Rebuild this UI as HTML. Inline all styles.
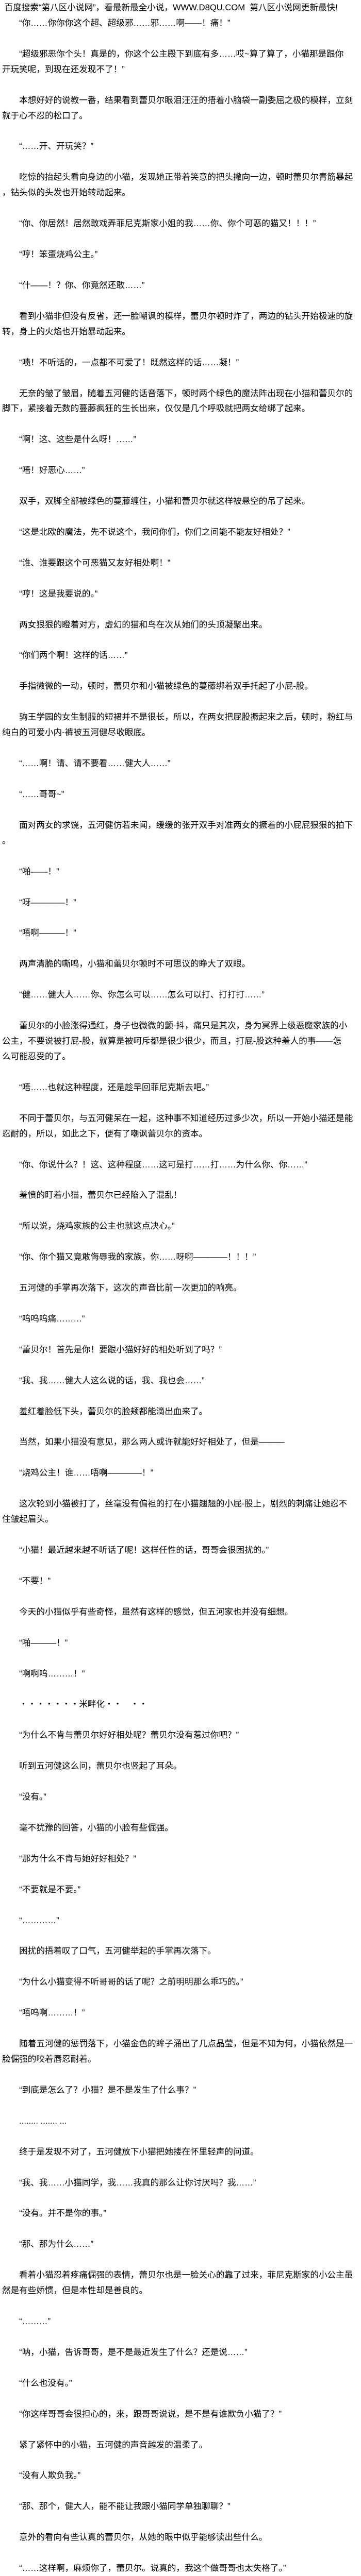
<!DOCTYPE html>
<html lang="zh">
<head>
<meta charset="utf-8">
<style>
html,body{margin:0;padding:0;background:#fff;height:5300px;overflow:hidden;}
body{width:700px;position:relative;}
.t{
  font-family:"Liberation Sans","Noto Sans CJK SC",sans-serif;
  font-size:16.6px;
  color:#000;
  margin:0;
  position:relative;
  width:700px;height:5300px;overflow:hidden;
}
.t div{height:29.94px;line-height:29.94px;white-space:pre;overflow:hidden;padding-left:4px;width:696px;}
</style>
</head>
<body>
<div class="t" id="t">
<div> 百度搜索“第八区小说网”，看最新最全小说，WWW.D8QU.COM  第八区小说网更新最快!</div>
<div>　　“你……你你你这个超、超级邪……邪……啊——！痛！”</div>
<div></div>
<div>　　“超级邪恶你个头！真是的，你这个公主殿下到底有多……哎~算了算了，小猫那是跟你</div>
<div>开玩笑呢，到现在还发现不了！”</div>
<div></div>
<div>　　本想好好的说教一番，结果看到蕾贝尔眼泪汪汪的捂着小脑袋一副委屈之极的模样，立刻</div>
<div>就于心不忍的松口了。</div>
<div></div>
<div>　　“……开、开玩笑？”</div>
<div></div>
<div>　　吃惊的抬起头看向身边的小猫，发现她正带着笑意的把头撇向一边，顿时蕾贝尔青筋暴起</div>
<div>，钻头似的头发也开始转动起来。</div>
<div></div>
<div>　　“你、你居然！居然敢戏弄菲尼克斯家小姐的我……你、你个可恶的猫又！！！”</div>
<div></div>
<div>　　“哼！笨蛋烧鸡公主。”</div>
<div></div>
<div>　　“什——！？你、你竟然还敢……”</div>
<div></div>
<div>　　看到小猫非但没有反省，还一脸嘲讽的模样，蕾贝尔顿时炸了，两边的钻头开始极速的旋</div>
<div>转，身上的火焰也开始暴动起来。</div>
<div></div>
<div>　　“啧！不听话的，一点都不可爱了！既然这样的话……凝！”</div>
<div></div>
<div>　　无奈的皱了皱眉，随着五河健的话音落下，顿时两个绿色的魔法阵出现在小猫和蕾贝尔的</div>
<div>脚下，紧接着无数的蔓藤疯狂的生长出来，仅仅是几个呼吸就把两女给绑了起来。</div>
<div></div>
<div>　　“啊！这、这些是什么呀！……”</div>
<div></div>
<div>　　“唔！好恶心……”</div>
<div></div>
<div>　　双手，双脚全部被绿色的蔓藤缠住，小猫和蕾贝尔就这样被悬空的吊了起来。</div>
<div></div>
<div>　　“这是北欧的魔法，先不说这个，我问你们，你们之间能不能友好相处？”</div>
<div></div>
<div>　　“谁、谁要跟这个可恶猫又友好相处啊！”</div>
<div></div>
<div>　　“哼！这是我要说的。”</div>
<div></div>
<div>　　两女狠狠的瞪着对方，虚幻的猫和鸟在次从她们的头顶凝聚出来。</div>
<div></div>
<div>　　“你们两个啊！这样的话……”</div>
<div></div>
<div>　　手指微微的一动，顿时，蕾贝尔和小猫被绿色的蔓藤绑着双手托起了小屁-股。</div>
<div></div>
<div>　　驹王学园的女生制服的短裙并不是很长，所以，在两女把屁股撅起来之后，顿时，粉红与</div>
<div>纯白的可爱小内-裤被五河健尽收眼底。</div>
<div></div>
<div>　　“……啊！请、请不要看……健大人……”</div>
<div></div>
<div>　　“……哥哥~”</div>
<div></div>
<div>　　面对两女的求饶，五河健仿若未闻，缓缓的张开双手对准两女的撅着的小屁屁狠狠的拍下</div>
<div>。</div>
<div></div>
<div>　　“啪——！”</div>
<div></div>
<div>　　“呀————！”</div>
<div></div>
<div>　　“唔啊———！”</div>
<div></div>
<div>　　两声清脆的嘶鸣，小猫和蕾贝尔顿时不可思议的睁大了双眼。</div>
<div></div>
<div>　　“健……健大人……你、你怎么可以……怎么可以打、打打打……”</div>
<div></div>
<div>　　蕾贝尔的小脸涨得通红，身子也微微的颤-抖，痛只是其次，身为冥界上级恶魔家族的小</div>
<div>公主，不要说被打屁-股，就算是被呵斥都是很少很少，而且，打屁-股这种羞人的事——怎</div>
<div>么可能忍受的了。</div>
<div></div>
<div>　　“唔……也就这种程度，还是趁早回菲尼克斯去吧。”</div>
<div></div>
<div>　　不同于蕾贝尔，与五河健呆在一起，这种事不知道经历过多少次，所以一开始小猫还是能</div>
<div>忍耐的，所以，如此之下，便有了嘲讽蕾贝尔的资本。</div>
<div></div>
<div>　　“你、你说什么？！这、这种程度……这可是打……打……为什么你、你……”</div>
<div></div>
<div>　　羞愤的盯着小猫，蕾贝尔已经陷入了混乱！</div>
<div></div>
<div>　　“所以说，烧鸡家族的公主也就这点决心。”</div>
<div></div>
<div>　　“你、你个猫又竟敢侮辱我的家族，你……呀啊————！！！”</div>
<div></div>
<div>　　五河健的手掌再次落下，这次的声音比前一次更加的响亮。</div>
<div></div>
<div>　　“呜呜呜痛………”</div>
<div></div>
<div>　　“蕾贝尔！首先是你！要跟小猫好好的相处听到了吗？”</div>
<div></div>
<div>　　“我、我……健大人这么说的话，我、我也会……”</div>
<div></div>
<div>　　羞红着脸低下头，蕾贝尔的脸颊都能滴出血来了。</div>
<div></div>
<div>　　当然，如果小猫没有意见，那么两人或许就能好好相处了，但是———</div>
<div></div>
<div>　　“烧鸡公主！谁……唔啊————！”</div>
<div></div>
<div>　　这次轮到小猫被打了，丝毫没有偏袒的打在小猫翘翘的小屁-股上，剧烈的刺痛让她忍不</div>
<div>住皱起眉头。</div>
<div></div>
<div>　　“小猫！最近越来越不听话了呢！这样任性的话，哥哥会很困扰的。”</div>
<div></div>
<div>　　“不要！”</div>
<div></div>
<div>　　今天的小猫似乎有些奇怪，虽然有这样的感觉，但五河家也并没有细想。</div>
<div></div>
<div>　　“啪———！”</div>
<div></div>
<div>　　“啊啊呜………！”</div>
<div></div>
<div>　　・・・・・・・米畔化・・　・・</div>
<div></div>
<div>　　“为什么不肯与蕾贝尔好好相处呢？蕾贝尔没有惹过你吧？”</div>
<div></div>
<div>　　听到五河健这么问，蕾贝尔也竖起了耳朵。</div>
<div></div>
<div>　　“没有。”</div>
<div></div>
<div>　　毫不犹豫的回答，小猫的小脸有些倔强。</div>
<div></div>
<div>　　“那为什么不肯与她好好相处？”</div>
<div></div>
<div>　　“不要就是不要。”</div>
<div></div>
<div>　　“…………”</div>
<div></div>
<div>　　困扰的捂着叹了口气，五河健举起的手掌再次落下。</div>
<div></div>
<div>　　“为什么小猫变得不听哥哥的话了呢？之前明明那么乖巧的。”</div>
<div></div>
<div>　　“唔呜啊………！”</div>
<div></div>
<div>　　随着五河健的惩罚落下，小猫金色的眸子涌出了几点晶莹，但是不知为何，小猫依然是一</div>
<div>脸倔强的咬着唇忍耐着。</div>
<div></div>
<div>　　“到底是怎么了？小猫？是不是发生了什么事？”</div>
<div></div>
<div>　　........ ....... ...</div>
<div></div>
<div>　　终于是发现不对了，五河健放下小猫把她搂在怀里轻声的问道。</div>
<div></div>
<div>　　“我、我……小猫同学，我……我真的那么让你讨厌吗？我……”</div>
<div></div>
<div>　　“没有。并不是你的事。”</div>
<div></div>
<div>　　“那、那为什么……”</div>
<div></div>
<div>　　看着小猫忍着疼痛倔强的表情，蕾贝尔也是一脸关心的靠了过来，菲尼克斯家的小公主虽</div>
<div>然是有些娇惯，但是本性却是善良的。</div>
<div></div>
<div>　　“………”</div>
<div></div>
<div>　　“呐，小猫，告诉哥哥，是不是最近发生了什么？还是说……”</div>
<div></div>
<div>　　“什么也没有。”</div>
<div></div>
<div>　　“你这样哥哥会很担心的，来，跟哥哥说说，是不是有谁欺负小猫了？”</div>
<div></div>
<div>　　紧了紧怀中的小猫，五河健的声音越发的温柔了。</div>
<div></div>
<div>　　“没有人欺负我。”</div>
<div></div>
<div>　　“那、那个，健大人，能不能让我跟小猫同学单独聊聊？”</div>
<div></div>
<div>　　意外的看向有些认真的蕾贝尔，从她的眼中似乎能够读出些什么。</div>
<div></div>
<div>　　“……这样啊，麻烦你了，蕾贝尔。说真的，我这个做哥哥也太失格了。”</div>
<div></div>
<div>　　把小猫的手交给蕾贝尔之后，五河健暂时的走向一边等待起来，他能够看出来，蕾贝尔似</div>
<div>乎是明白了什么，而且，小猫其实也并不是真正的针对蕾贝尔，五河健总有种感觉，小猫发脾</div>
<div>气的对象似乎是他自己，但是具体是什么事，他也说不上来，所以才拜托了蕾贝尔。</div>
<div></div>
<div>飞卢提醒您：读书三件事 - 收藏、推荐、分享!</div>
<div></div>
<div>支持飞卢小说网(http://b.faloo.com)原创作品，尽享阅读的喜悦!</div>
<div></div>
<div> 百度搜索“第八区小说网”，看最新最全小说，WWW.D8QU.COM  第八区小说网更新最快!</div>
</div>
<script>
(function(){
  var ds=document.getElementById('t').children;
  for(var i=0;i<ds.length;i++){
    var d=ds[i];
    d.style.position='absolute';
    d.style.left='0';
    d.style.top=(i*29.94)+'px';
  }
})();
</script>
</body>
</html>
